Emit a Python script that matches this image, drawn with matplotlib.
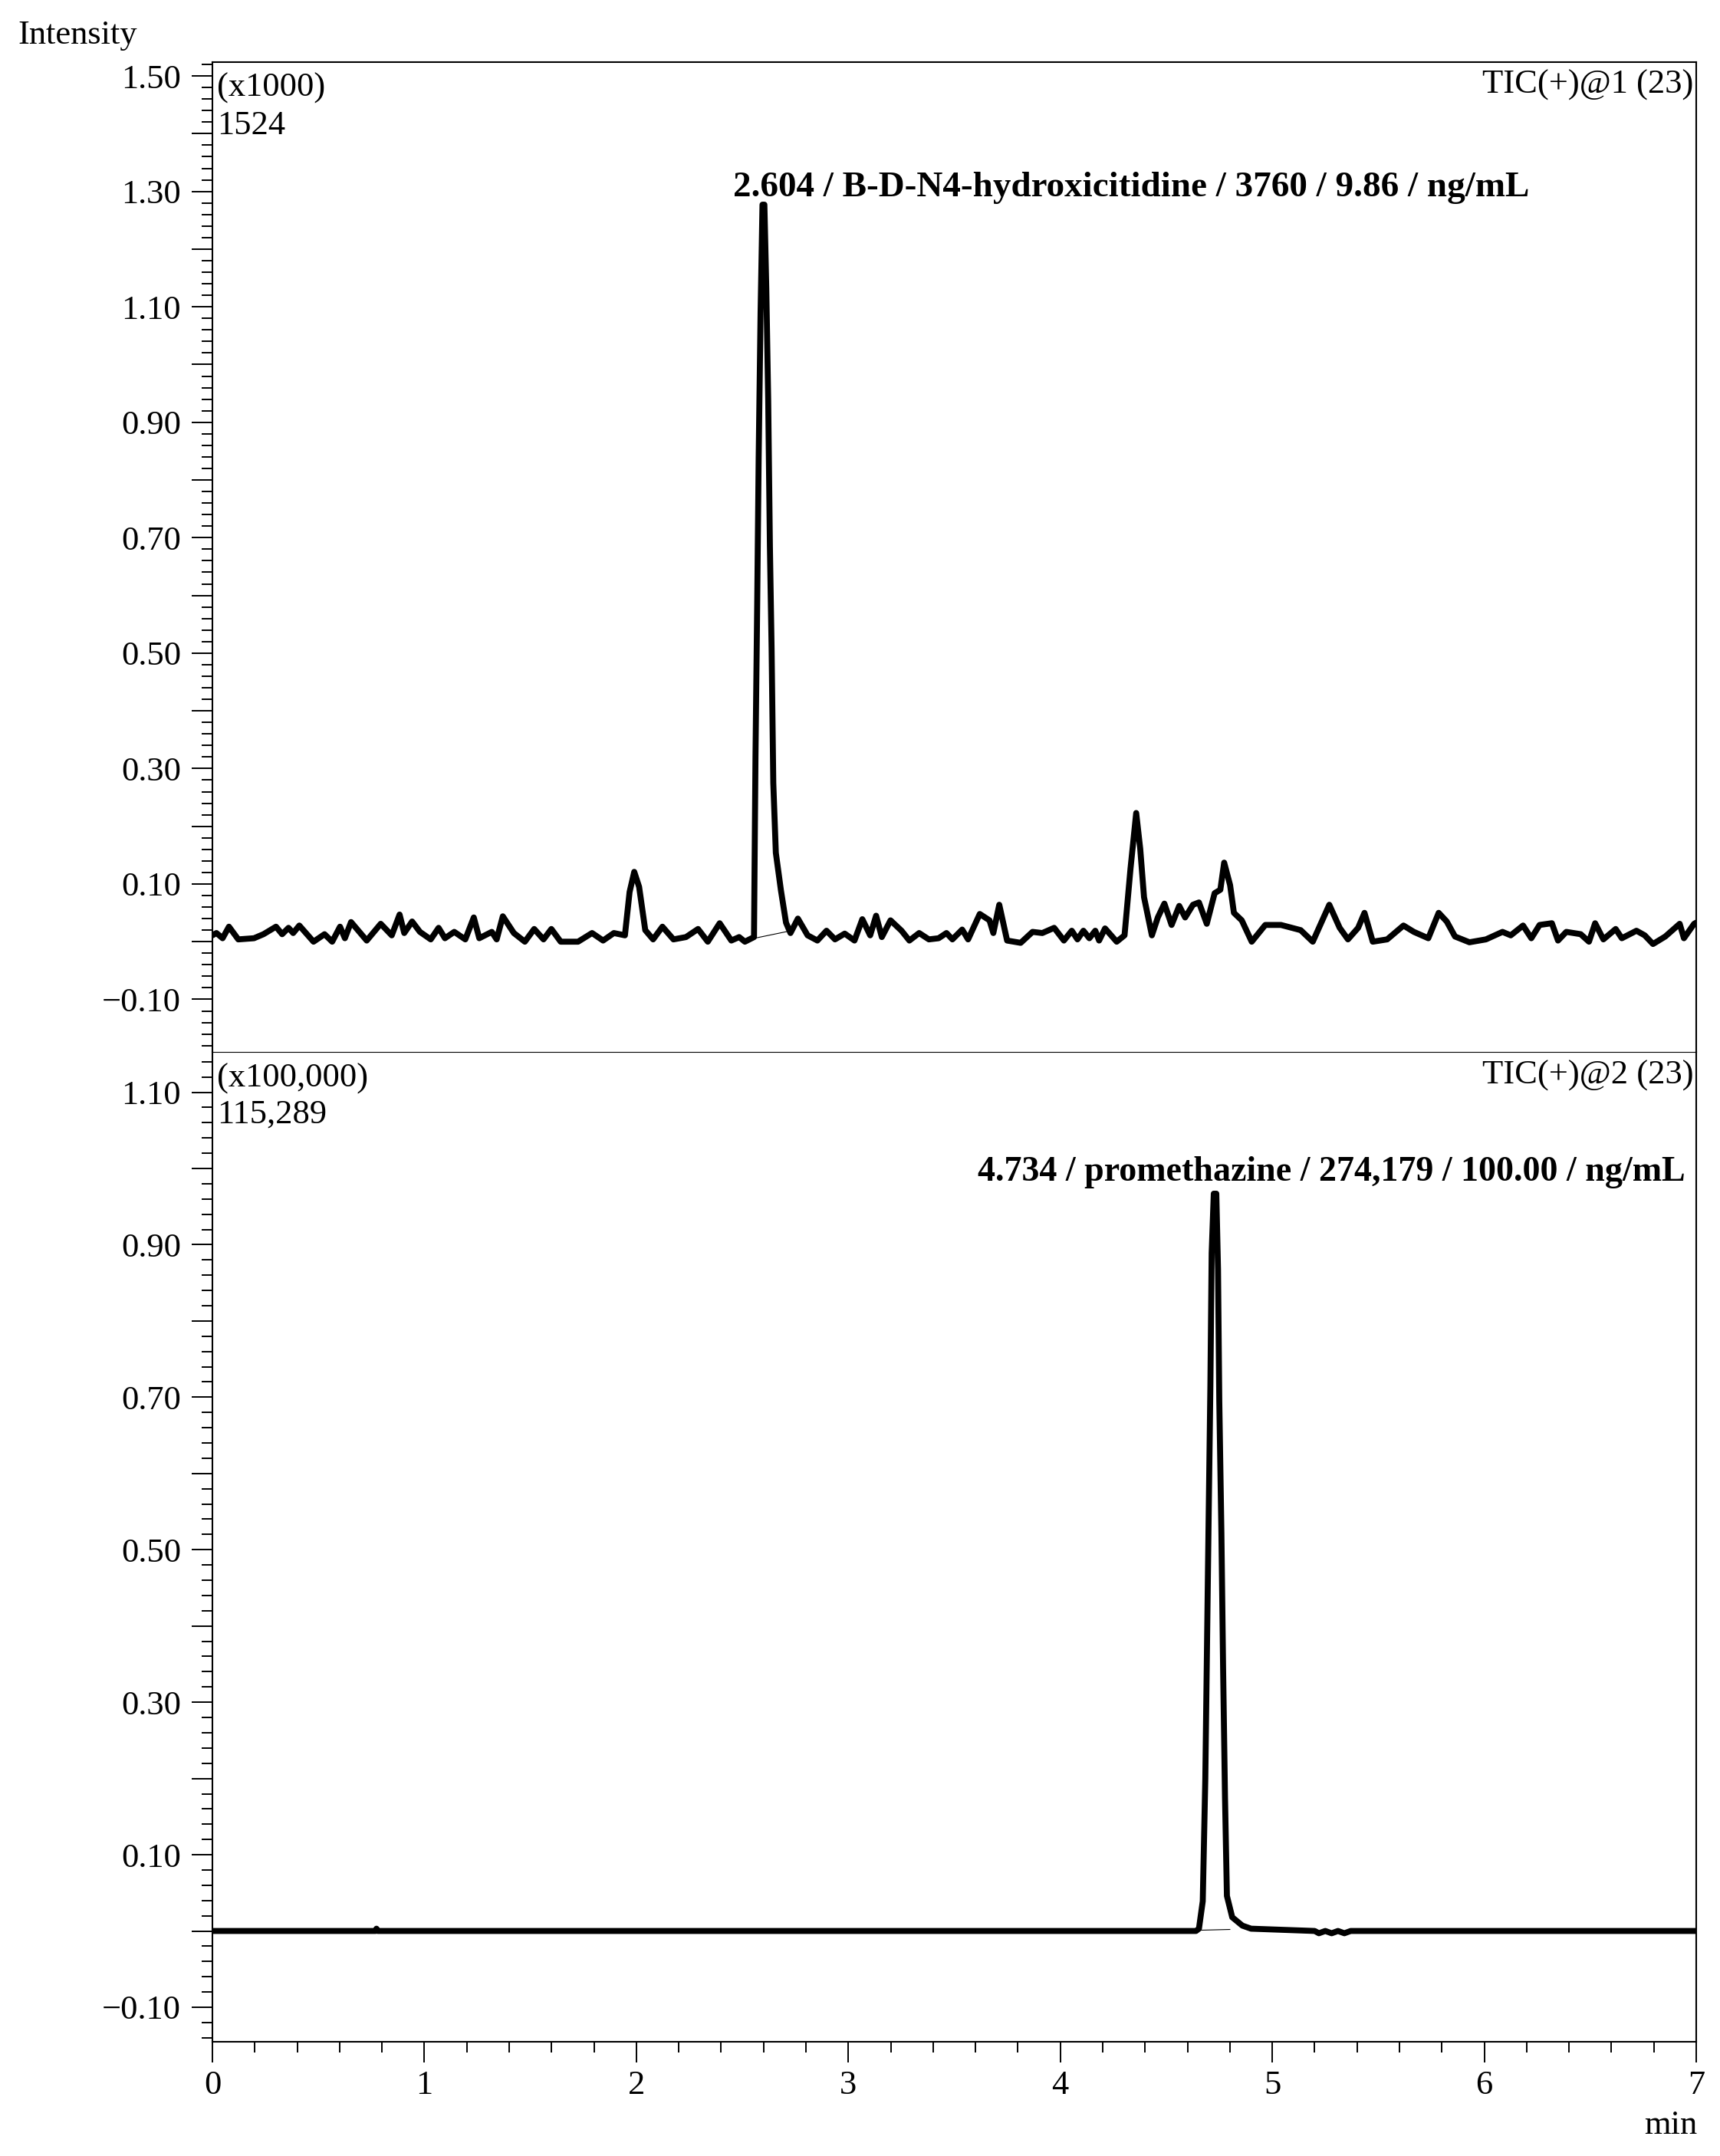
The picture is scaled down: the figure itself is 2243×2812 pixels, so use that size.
import matplotlib
matplotlib.use("Agg")
import matplotlib.pyplot as plt
from matplotlib.ticker import MultipleLocator, FuncFormatter

plt.rcParams['font.family'] = ['Liberation Serif', 'DejaVu Serif']

# ---------------- data ----------------
# Panel 1: TIC(+)@1, intensity in units of x1000
top_time = [0.000, 0.019, 0.048, 0.078, 0.122, 0.196, 0.241, 0.300, 0.329, 0.359,
            0.381, 0.410, 0.477, 0.529, 0.565, 0.602, 0.625, 0.654, 0.728, 0.794,
            0.846, 0.883, 0.905, 0.942, 0.979, 1.030, 1.067, 1.097, 1.141, 1.193,
            1.233, 1.259, 1.318, 1.341, 1.370, 1.422, 1.474, 1.518, 1.562, 1.599,
            1.643, 1.725, 1.791, 1.843, 1.894, 1.946, 1.968, 1.990, 2.013, 2.042,
            2.079, 2.123, 2.175, 2.234, 2.291, 2.337, 2.393, 2.448, 2.485, 2.512,
            2.555, 2.562, 2.570, 2.577, 2.586, 2.595, 2.604, 2.613, 2.622, 2.630,
            2.638, 2.646, 2.658, 2.682, 2.706, 2.727, 2.762, 2.808, 2.854, 2.897,
            2.937, 2.983, 3.029, 3.066, 3.103, 3.131, 3.158, 3.199, 3.251, 3.288,
            3.334, 3.380, 3.426, 3.463, 3.491, 3.537, 3.565, 3.620, 3.666, 3.684,
            3.712, 3.749, 3.813, 3.869, 3.915, 3.971, 4.017, 4.054, 4.081, 4.109,
            4.137, 4.165, 4.183, 4.211, 4.266, 4.303, 4.331, 4.358, 4.377, 4.395,
            4.432, 4.460, 4.491, 4.525, 4.561, 4.589, 4.626, 4.654, 4.691, 4.728,
            4.755, 4.773, 4.801, 4.819, 4.856, 4.903, 4.967, 5.041, 5.134, 5.191,
            5.269, 5.318, 5.357, 5.405, 5.435, 5.474, 5.542, 5.619, 5.668, 5.736,
            5.785, 5.823, 5.862, 5.930, 6.008, 6.086, 6.125, 6.183, 6.222, 6.261,
            6.319, 6.348, 6.387, 6.455, 6.494, 6.523, 6.562, 6.620, 6.649, 6.718,
            6.757, 6.796, 6.854, 6.922, 6.942, 6.990, 7.000]
top_intensity = [0.011, 0.015, 0.006, 0.026, 0.004, 0.006, 0.013, 0.026, 0.013, 0.024,
                 0.015, 0.028, 0.000, 0.013, 0.000, 0.026, 0.006, 0.034, 0.002, 0.031,
                 0.011, 0.047, 0.015, 0.035, 0.017, 0.004, 0.024, 0.006, 0.017, 0.004,
                 0.042, 0.006, 0.017, 0.004, 0.044, 0.015, 0.000, 0.022, 0.004, 0.022,
                 0.000, 0.000, 0.015, 0.002, 0.015, 0.011, 0.086, 0.121, 0.095, 0.020,
                 0.004, 0.026, 0.004, 0.008, 0.022, 0.000, 0.032, 0.002, 0.008, 0.000,
                 0.008, 0.321, 0.582, 0.839, 1.090, 1.277, 1.277, 1.132, 0.937, 0.685,
                 0.508, 0.275, 0.154, 0.089, 0.033, 0.015, 0.040, 0.011, 0.002, 0.019,
                 0.004, 0.014, 0.002, 0.039, 0.011, 0.045, 0.008, 0.037, 0.019, 0.002,
                 0.015, 0.004, 0.006, 0.015, 0.004, 0.021, 0.004, 0.048, 0.037, 0.015,
                 0.064, 0.002, -0.002, 0.017, 0.015, 0.024, 0.002, 0.019, 0.004, 0.019,
                 0.006, 0.019, 0.002, 0.023, 0.000, 0.011, 0.126, 0.223, 0.161, 0.077,
                 0.011, 0.042, 0.066, 0.029, 0.062, 0.042, 0.064, 0.068, 0.031, 0.084,
                 0.090, 0.137, 0.098, 0.050, 0.037, 0.000, 0.029, 0.029, 0.020, 0.000,
                 0.064, 0.024, 0.004, 0.024, 0.050, 0.000, 0.004, 0.028, 0.017, 0.006,
                 0.050, 0.035, 0.009, -0.001, 0.004, 0.017, 0.011, 0.028, 0.006, 0.029,
                 0.032, 0.002, 0.017, 0.013, 0.000, 0.032, 0.004, 0.022, 0.006, 0.019,
                 0.011, -0.004, 0.009, 0.031, 0.006, 0.031, 0.033]
top_base_time = [2.558, 2.716]
top_base_intensity = [0.006, 0.018]

# Panel 2: TIC(+)@2, intensity in units of x100,000
bot_time = [0.000, 0.770, 0.774, 0.780, 4.640, 4.654, 4.672, 4.684, 4.692, 4.699,
            4.708, 4.714, 4.724, 4.736, 4.744, 4.750, 4.760, 4.768, 4.777, 4.786,
            4.811, 4.859, 4.900, 5.000, 5.200, 5.220, 5.250, 5.280, 5.310, 5.340,
            5.370, 7.000]
bot_intensity = [0.000, 0.000, 0.003, 0.000, 0.000, 0.003, 0.039, 0.199, 0.372, 0.525,
                 0.715, 0.889, 0.967, 0.967, 0.868, 0.695, 0.522, 0.345, 0.175, 0.046,
                 0.018, 0.007, 0.003, 0.002, 0.000, -0.003, 0.000, -0.003, 0.000, -0.003,
                 0.000, 0.000]
bot_base_time = [4.660, 4.800]
bot_base_intensity = [0.001, 0.002]

top_ylim = (-0.191, 1.524)
bot_ylim = (-0.1453, 1.15289)
x_range = (0, 7)

top_scale = "(x1000)"
top_max = "1524"
top_channel = "TIC(+)@1 (23)"
top_peak_label = "2.604 / B-D-N4-hydroxicitidine / 3760 / 9.86 / ng/mL"
bot_scale = "(x100,000)"
bot_max = "115,289"
bot_channel = "TIC(+)@2 (23)"
bot_peak_label = "4.734 / promethazine / 274,179 / 100.00 / ng/mL"

# ---------------- figure ----------------
W, H = 2243, 2812
fig = plt.figure(figsize=(W / 100, H / 100), dpi=100)
left, right = 277 / W, 2212 / W
ax1 = fig.add_axes([left, 1 - 1372 / H, right - left, (1372 - 81) / H])
ax2 = fig.add_axes([left, 1 - 2663 / H, right - left, (2663 - 1372) / H])

FS = 32


def ylab(v, pos):
    k = int(round(v * 10))
    if k % 2 == 0:
        return ""
    s = "%.2f" % abs(v)
    return ("\u2212" + s) if v < 0 else s


for ax, ylim in ((ax1, top_ylim), (ax2, bot_ylim)):
    ax.set_xlim(*x_range)
    ax.set_ylim(*ylim)
    ax.yaxis.set_major_locator(MultipleLocator(0.1))
    ax.yaxis.set_minor_locator(MultipleLocator(0.02))
    ax.yaxis.set_major_formatter(FuncFormatter(ylab))
    ax.tick_params(axis='y', which='major', direction='out', length=19.5, width=1.4,
                   labelsize=FS, pad=10)
    ax.tick_params(axis='y', which='minor', direction='out', length=10, width=1.4)
    for s in ax.spines.values():
        s.set_linewidth(1.5)

ax1.spines['bottom'].set_visible(False)
ax2.spines['top'].set_linewidth(0.8)
ax1.tick_params(axis='x', which='both', bottom=False, labelbottom=False)

ax2.xaxis.set_major_locator(MultipleLocator(1))
ax2.xaxis.set_minor_locator(MultipleLocator(0.2))
ax2.xaxis.set_major_formatter(FuncFormatter(lambda v, p: "%d" % round(v)))
ax2.tick_params(axis='x', which='major', direction='out', length=19.5, width=1.4,
                labelsize=FS, pad=7)
ax2.tick_params(axis='x', which='minor', direction='out', length=10, width=1.4)

# traces
ax1.plot(top_time, top_intensity, color='black', lw=5.6, solid_joinstyle='round',
         solid_capstyle='round')
ax1.plot(top_base_time, top_base_intensity, color='black', lw=0.8)
ax2.plot(bot_time, bot_intensity, color='black', lw=5.6, solid_joinstyle='round',
         solid_capstyle='round')
ax2.plot(bot_base_time, bot_base_intensity, color='black', lw=0.8)

# in-panel texts
ax1.text(0.003, 0.9659, top_scale, transform=ax1.transAxes, fontsize=FS,
         ha='left', va='baseline')
ax1.text(0.003, 0.9272, top_max, transform=ax1.transAxes, fontsize=FS,
         ha='left', va='baseline')
ax1.text(0.998, 0.9685, top_channel, transform=ax1.transAxes, fontsize=FS,
         ha='right', va='baseline')
ax2.text(0.003, 0.9651, bot_scale, transform=ax2.transAxes, fontsize=FS,
         ha='left', va='baseline')
ax2.text(0.003, 0.9280, bot_max, transform=ax2.transAxes, fontsize=FS,
         ha='left', va='baseline')
ax2.text(0.998, 0.9680, bot_channel, transform=ax2.transAxes, fontsize=FS,
         ha='right', va='baseline')

t1 = ax1.text(2.455, 1.291, top_peak_label, fontsize=33, fontweight='bold',
              ha='left', va='baseline')
t2 = ax2.text(3.611, 0.984, bot_peak_label, fontsize=33, fontweight='bold',
              ha='left', va='baseline')

fig.text(23 / W, 1 - 57 / H, "Intensity", fontsize=FS, ha='left', va='baseline')
fig.text(2213 / W, 1 - 2783 / H, "min", fontsize=FS, ha='right', va='baseline')

# fit the bold peak labels to their measured widths
fig.canvas.draw()
r = fig.canvas.get_renderer()
for t, target in ((t1, 1040), (t2, 925)):
    wpx = t.get_window_extent(r).width
    t.set_fontsize(t.get_fontsize() * target / wpx)

fig.savefig("out.png", dpi=100, facecolor='white')
